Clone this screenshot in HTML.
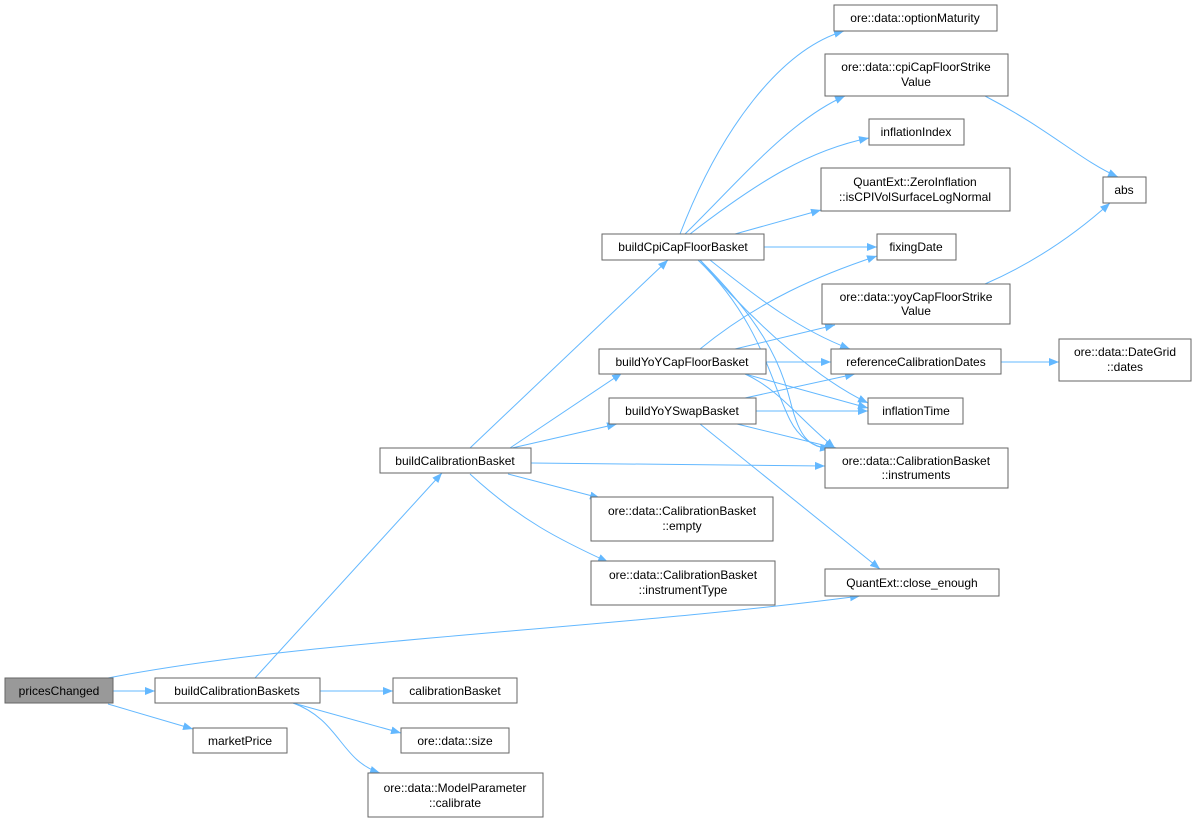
<!DOCTYPE html>
<html><head><meta charset="utf-8"><style>
html,body{margin:0;padding:0;background:#fff}
svg{display:block}
text{font-family:"Liberation Sans",Arial,sans-serif;font-size:12px;fill:#000;text-anchor:middle}
.n{fill:#fff;stroke:#666;stroke-width:1}
.e{fill:none;stroke:#63b8ff;stroke-width:1}
</style></head><body>
<svg width="1196" height="823" viewBox="0 0 1196 823" xmlns="http://www.w3.org/2000/svg">
<defs><marker id="a" viewBox="0 0 10 10" refX="10" refY="5" markerWidth="10" markerHeight="10" markerUnits="userSpaceOnUse" orient="auto"><path d="M0,1 L10,5 L0,9 z" fill="#63b8ff"/></marker></defs>
<g class="e" marker-end="url(#a)">
<path d="M113,691 L155,691"/>
<path d="M108,704 L193,729"/>
<path d="M108,678 C300,640 600,630 860,596"/>
<path d="M255,678 L442,473"/>
<path d="M320,691 L393,691"/>
<path d="M293,703 L401,733"/>
<path d="M293,703 C340,720 340,760 380,773"/>
<path d="M470,448 L668,260"/>
<path d="M510,448 L622,373"/>
<path d="M512,448 L617,424"/>
<path d="M531,463 L825,466"/>
<path d="M508,474 L600,498"/>
<path d="M470,474 C520,520 560,540 608,562"/>
<path d="M680,234 C720,130 780,50 844,31"/>
<path d="M685,234 C740,180 790,120 845,96"/>
<path d="M690,234 C760,180 810,150 869,138"/>
<path d="M735,234 L821,210"/>
<path d="M764,247 L877,247"/>
<path d="M710,260 C760,300 800,330 850,349"/>
<path d="M700,260 C760,330 820,380 868,403"/>
<path d="M700,260 C760,320 780,360 790,400 C800,440 810,450 838,448"/>
<path d="M698,260 C760,320 770,380 790,420 C800,440 815,447 830,449"/>
<path d="M700,349 C760,300 820,275 877,256"/>
<path d="M735,349 L835,325"/>
<path d="M766,362 L831,362"/>
<path d="M745,374 L868,408"/>
<path d="M745,374 C780,390 800,420 835,448"/>
<path d="M745,398 L855,374"/>
<path d="M756,411 L868,411"/>
<path d="M737,424 L835,448"/>
<path d="M700,424 L880,569"/>
<path d="M985,96 C1050,130 1080,160 1118,177"/>
<path d="M985,284 C1040,260 1080,230 1110,203"/>
<path d="M1001,362 L1059,362"/>
</g>
<rect class="n" x="5" y="678" width="108" height="25" style="fill:#999"/><text x="59" y="695">pricesChanged</text>
<rect class="n" x="155" y="678" width="165" height="25"/><text x="237" y="695">buildCalibrationBaskets</text>
<rect class="n" x="193" y="728" width="94" height="25"/><text x="240" y="745">marketPrice</text>
<rect class="n" x="393" y="678" width="124" height="25"/><text x="455" y="695">calibrationBasket</text>
<rect class="n" x="401" y="728" width="108" height="25"/><text x="455" y="745">ore::data::size</text>
<rect class="n" x="368" y="773" width="175" height="44"/><text x="455" y="792">ore::data::ModelParameter</text><text x="455" y="807">::calibrate</text>
<rect class="n" x="380" y="448" width="151" height="25"/><text x="455" y="465">buildCalibrationBasket</text>
<rect class="n" x="591" y="497" width="182" height="44"/><text x="682" y="515">ore::data::CalibrationBasket</text><text x="682" y="530">::empty</text>
<rect class="n" x="591" y="561" width="184" height="44"/><text x="683" y="579">ore::data::CalibrationBasket</text><text x="683" y="594">::instrumentType</text>
<rect class="n" x="602" y="234" width="162" height="26"/><text x="683" y="251">buildCpiCapFloorBasket</text>
<rect class="n" x="599" y="349" width="167" height="25"/><text x="682" y="366">buildYoYCapFloorBasket</text>
<rect class="n" x="609" y="398" width="147" height="26"/><text x="682" y="415">buildYoYSwapBasket</text>
<rect class="n" x="834" y="5" width="163" height="26"/><text x="915" y="22">ore::data::optionMaturity</text>
<rect class="n" x="825" y="54" width="183" height="42"/><text x="916" y="71">ore::data::cpiCapFloorStrike</text><text x="916" y="86">Value</text>
<rect class="n" x="869" y="119" width="95" height="26"/><text x="916" y="136">inflationIndex</text>
<rect class="n" x="821" y="168" width="189" height="43"/><text x="915" y="186">QuantExt::ZeroInflation</text><text x="915" y="201">::isCPIVolSurfaceLogNormal</text>
<rect class="n" x="877" y="234" width="79" height="26"/><text x="916" y="251">fixingDate</text>
<rect class="n" x="822" y="284" width="188" height="40"/><text x="916" y="301">ore::data::yoyCapFloorStrike</text><text x="916" y="315">Value</text>
<rect class="n" x="831" y="349" width="170" height="25"/><text x="916" y="366">referenceCalibrationDates</text>
<rect class="n" x="868" y="398" width="95" height="26"/><text x="916" y="415">inflationTime</text>
<rect class="n" x="825" y="448" width="183" height="40"/><text x="916" y="465">ore::data::CalibrationBasket</text><text x="916" y="479">::instruments</text>
<rect class="n" x="825" y="569" width="174" height="27"/><text x="912" y="587">QuantExt::close_enough</text>
<rect class="n" x="1103" y="177" width="43" height="26"/><text x="1124" y="194">abs</text>
<rect class="n" x="1059" y="339" width="132" height="42"/><text x="1125" y="356">ore::data::DateGrid</text><text x="1125" y="371">::dates</text>
</svg>
</body></html>
